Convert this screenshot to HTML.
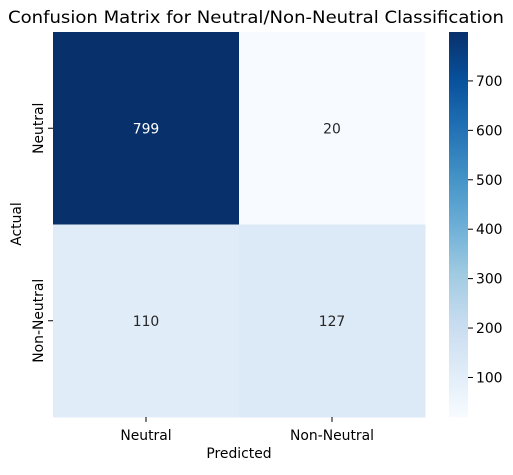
<!DOCTYPE html>
<html><head><meta charset="utf-8"><style>body{margin:0;background:#fff}svg{font-family:"DejaVu Sans","Liberation Sans",sans-serif}</style></head>
<body>
<svg id="chart" width="513" height="470">
<defs><linearGradient id="blues" x1="0" y1="1" x2="0" y2="0">
<stop offset="0" stop-color="#f7fbff"/><stop offset="0.125" stop-color="#deebf7"/><stop offset="0.25" stop-color="#c6dbef"/><stop offset="0.375" stop-color="#9ecae1"/><stop offset="0.5" stop-color="#6baed6"/><stop offset="0.625" stop-color="#4292c6"/><stop offset="0.75" stop-color="#2171b5"/><stop offset="0.875" stop-color="#08519c"/><stop offset="1" stop-color="#08306b"/></linearGradient></defs>
<text x="256" y="23" text-anchor="middle" font-size="16.7" textLength="496" lengthAdjust="spacingAndGlyphs">Confusion Matrix for Neutral/Non-Neutral Classification</text>
<g id="cells"></g>
<rect x="449" y="32" width="19" height="385" fill="url(#blues)"/>
<g id="cbticks"></g>
<text x="239" y="458" text-anchor="middle" font-size="13.9">Predicted</text>
<text transform="translate(21,224) rotate(-90)" text-anchor="middle" font-size="13.9">Actual</text>
</svg>
<script>
const labels = ["Neutral","Non-Neutral"];
const matrix = [[799,20],[110,127]];
const cbTicks = [100,200,300,400,500,600,700];
const L=53,R=425,T=32,B=417,vmin=20,vmax=799;
const stops=["#f7fbff","#deebf7","#c6dbef","#9ecae1","#6baed6","#4292c6","#2171b5","#08519c","#08306b"];
function hex(c){return [1,3,5].map(i=>parseInt(c.substr(i,2),16));}
function color(v){let t=Math.max(0,Math.min(1,(v-vmin)/(vmax-vmin)))*8;let i=Math.min(7,Math.floor(t)),f=t-i;let a=hex(stops[i]),b=hex(stops[i+1]);return "rgb("+a.map((x,k)=>Math.round(x+(b[k]-x)*f)).join(",")+")";}
const ns="http://www.w3.org/2000/svg";
const n=labels.length,cw=(R-L)/n,ch=(B-T)/n;
const g=document.getElementById("cells"),svg=document.getElementById("chart");
function mk(tag,at,p){const e=document.createElementNS(ns,tag);for(const k in at)e.setAttribute(k,at[k]);(p||svg).appendChild(e);return e;}
matrix.forEach((row,r)=>row.forEach((v,c)=>{
 const rc=mk("rect",{x:L+c*cw,y:T+r*ch,width:cw+0.5,height:ch+0.5,fill:color(v)},g);
 
 
 const t=mk("text",{x:L+(c+.5)*cw,y:T+(r+.5)*ch+5,"text-anchor":"middle","font-size":"13.9",fill:(v-vmin)/(vmax-vmin)>0.5?"#fff":"#262626"},g);
 t.textContent=v;
 
 
}));
labels.forEach((lb,i)=>{
 const x=L+(i+.5)*cw;
 mk("line",{x1:x,x2:x,y1:B,y2:B+5,stroke:"#000"});
 const t=mk("text",{x:x,y:B+23,"text-anchor":"middle","font-size":"13.9"});t.textContent=lb;
 
 
 const y=T+(i+.5)*ch;
 mk("line",{x1:L-5,x2:L,y1:y,y2:y,stroke:"#000"});
 const t2=mk("text",{transform:"translate("+(L-10)+","+y+") rotate(-90)","text-anchor":"middle","font-size":"13.9"});t2.textContent=lb;
 
 
});
const cg=document.getElementById("cbticks");
cbTicks.forEach(v=>{
 const y=B-(v-vmin)/(vmax-vmin)*(B-T);
 mk("line",{x1:468,x2:473,y1:y,y2:y,stroke:"#000"},cg);
 const t=mk("text",{x:476,y:y+5,"font-size":"13.9"},cg);t.textContent=v;
 
 
});
</script>
</body></html>
